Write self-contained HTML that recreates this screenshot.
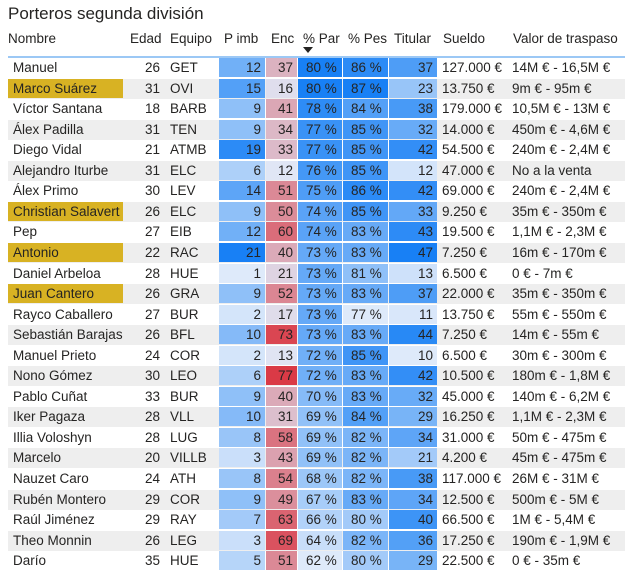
<!DOCTYPE html>
<html><head><meta charset="utf-8"><style>
body{margin:0;width:636px;height:578px;background:#fff;font-family:"Liberation Sans",sans-serif;color:#252423;overflow:hidden;position:relative}
#title{position:absolute;left:8px;top:4px;font-size:17px;color:#252423}
.h{position:absolute;top:31px;font-size:13.5px;color:#252423;white-space:nowrap}
#line{position:absolute;left:8px;top:56px;width:617px;height:2px;background:#9cc8f5}
.row{position:absolute;left:8px;width:617px;height:20px;font-size:13.5px}
.c{position:absolute;top:0;height:19px;line-height:20px;white-space:nowrap;box-sizing:border-box}
.r{text-align:right;padding-right:4px}
</style></head><body>
<div id="title">Porteros segunda división</div>
<div id="hdr"></div>
<div id="line"></div>
<div id="rows"></div>
<script>
const names=["Manuel","Marco Suárez","Víctor Santana","Álex Padilla","Diego Vidal","Alejandro Iturbe","Álex Primo","Christian Salavert","Pep","Antonio","Daniel Arbeloa","Juan Cantero","Rayco Caballero","Sebastián Barajas","Manuel Prieto","Nono Gómez","Pablo Cuñat","Iker Pagaza","Illia Voloshyn","Marcelo","Nauzet Caro","Rubén Montero","Raúl Jiménez","Theo Monnin","Darío"];
const highlighted=[1,7,9,11];
const ages=[26,31,18,31,21,31,30,26,27,22,28,26,27,26,24,30,33,28,28,20,24,29,29,26,35];
const teams=["GET","OVI","BARB","TEN","ATMB","ELC","LEV","ELC","EIB","RAC","HUE","GRA","BUR","BFL","COR","LEO","BUR","VLL","LUG","VILLB","ATH","COR","RAY","LEG","HUE"];
const pimb=[12,15,9,9,19,6,14,9,12,21,1,9,2,10,2,6,9,10,8,3,8,9,7,3,5];
const enc=[37,16,41,34,33,12,51,50,60,40,21,52,17,73,13,77,40,31,58,43,54,49,63,69,51];
const par=[80,80,78,77,77,76,75,74,74,73,73,73,73,73,72,72,70,69,69,69,68,67,66,64,62];
const pes=[86,87,84,85,85,85,86,85,83,83,81,83,77,83,85,83,83,84,82,82,82,83,80,82,80];
const tit=[37,23,38,32,42,12,42,33,43,47,13,37,11,44,10,42,32,29,34,21,38,34,40,36,29];
const sueldo=["127.000 €","13.750 €","179.000 €","14.000 €","54.500 €","47.000 €","69.000 €","9.250 €","19.500 €","7.250 €","6.500 €","22.000 €","13.750 €","7.250 €","6.500 €","10.500 €","45.000 €","16.250 €","31.000 €","4.200 €","117.000 €","12.500 €","66.500 €","17.250 €","22.500 €"];
const valor=["14M € - 16,5M €","9m € - 95m €","10,5M € - 13M €","450m € - 4,6M €","240m € - 2,4M €","No a la venta","240m € - 2,4M €","35m € - 350m €","1,1M € - 2,3M €","16m € - 170m €","0 € - 7m €","35m € - 350m €","55m € - 550m €","14m € - 55m €","30m € - 300m €","180m € - 1,8M €","140m € - 6,2M €","1,1M € - 2,3M €","50m € - 475m €","45m € - 475m €","26M € - 31M €","500m € - 5M €","1M € - 5,4M €","190m € - 1,9M €","0 € - 35m €"];
const headers=["Nombre","Edad","Equipo","P imb","Enc","% Par","% Pes","Titular","Sueldo","Valor de traspaso"];
function mix(a,b,t){t=Math.max(0,Math.min(1,t));return 'rgb('+a.map((v,i)=>Math.round(v+(b[i]-v)*t)).join(',')+')';}
const LB=[222,234,250],DB=[24,128,245];
function blue(v,lo,hi){return mix(LB,DB,(v-lo)/(hi-lo));}
function red(v){const t=(v-12)/(77-12);return t<0.4?mix([224,230,245],[219,176,190],t/0.4):mix([219,176,190],[218,58,70],(t-0.4)/0.6);}
const cols=[{x:0,w:116},{x:116,w:40,r:1},{x:158,w:52},{x:211,w:47,r:1},{x:258,w:32,r:1},{x:290,w:45},{x:335,w:46},{x:381,w:49,r:1},{x:430,w:70},{x:500,w:117}];
const hx=[8,130,170,224,271,303,348,394,443,513];
const hd=document.getElementById('hdr');
headers.forEach((h,i)=>{const d=document.createElement('div');d.className='h';d.style.left=hx[i]+'px';d.textContent=h;

hd.appendChild(d);});
const ar=document.createElement('div');ar.style.cssText='position:absolute;left:303px;top:47px;width:0;height:0;border-left:5px solid transparent;border-right:5px solid transparent;border-top:6px solid #252423';


hd.appendChild(ar);
const R=document.getElementById('rows');
names.forEach((n,i)=>{
 const row=document.createElement('div');row.className='row';row.style.top=(58+i*20.55)+'px';
 if(i%2==1)row.style.background='#eeeeee';
 
 
 const vals=[n,ages[i],teams[i],pimb[i],enc[i],par[i]+' %',pes[i]+' %',tit[i],sueldo[i],valor[i]];
 const bgs=[highlighted.includes(i)?'#d8b223':'',
 '','',blue(pimb[i],1,21),red(enc[i]),blue(par[i],62,80),blue(pes[i],77,87),blue(tit[i],10,47),'',''];
 vals.forEach((v,j)=>{const c=document.createElement('div');c.className='c'+(cols[j].r?' r':'');
 c.style.left=cols[j].x+'px';c.style.width=(cols[j].w-(bgs[j]&&j>2?1:0))+'px';
 if(bgs[j])c.style.background=bgs[j];
 if(j==0)c.style.paddingLeft='5px';
 if(j==0&&bgs[0])c.style.width='115px';
 if(j==5||j==6)c.style.paddingLeft='8px';
 if(j==2||j>7)c.style.paddingLeft='4px';
 c.textContent=v;
 
 
 row.appendChild(c);});
 R.appendChild(row);
});
</script>
</body></html>
